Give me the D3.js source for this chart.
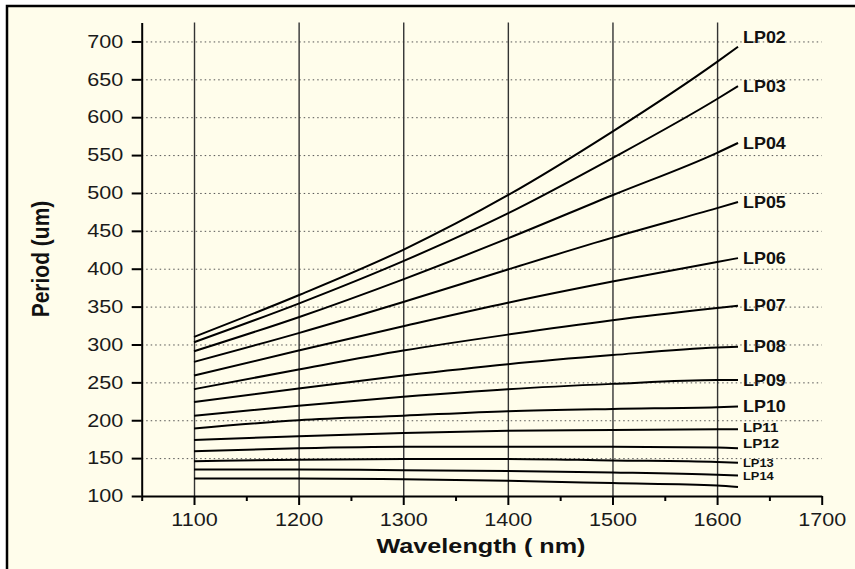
<!DOCTYPE html>
<html>
<head>
<meta charset="utf-8">
<script src="https://cdn.jsdelivr.net/npm/d3@7"></script>
<style>
body { margin: 0; background: #fff; }
svg { display: block; font-family: "Liberation Sans", Arial, sans-serif; }
</style>
</head>
<body>
<script>
// wavelengths (nm) where the curves were read
let wavelengths = [1100, 1200, 1300, 1400, 1500, 1600, 1620]

// grating period (um) for each mode
let lp02 = [310, 365, 425, 497, 581, 673, 693]
let lp03 = [303, 354, 410, 473, 546, 624, 641]
let lp04 = [291, 336, 386, 440, 497, 553, 566]
let lp05 = [277, 315, 356, 399, 441, 480, 488]
let lp06 = [259, 292, 324, 355, 383, 409, 414]
let lp07 = [241, 267, 292, 313, 332, 348, 351]
let lp08 = [224, 242, 259, 274, 286, 296, 297]
let lp09 = [206, 219, 231, 241, 248, 253, 253]
let lp10 = [189, 200, 206, 212, 215, 217, 218]
let lp11 = [174, 179, 183, 186, 187, 188, 188]
let lp12 = [159, 163, 165, 165, 165, 164, 163]
let lp13 = [146, 148, 149, 149, 147, 145, 144]
let lp14 = [135, 135, 134, 133, 131, 128, 127]
let lp15 = [123, 123, 122, 120, 117, 114, 112]

let series = [lp02, lp03, lp04, lp05, lp06, lp07, lp08, lp09, lp10, lp11, lp12, lp13, lp14, lp15]
let modeLabels = ["LP02", "LP03", "LP04", "LP05", "LP06", "LP07", "LP08", "LP09", "LP10", "LP11", "LP12", "LP13", "LP14"]

let xTicks = [1100, 1200, 1300, 1400, 1500, 1600, 1700]
let xMinor = [1050, 1150, 1250, 1350, 1450, 1550, 1650]
let yTicks = [100, 150, 200, 250, 300, 350, 400, 450, 500, 550, 600, 650, 700]
let yMinor = [125, 175, 225, 275, 325, 375, 425, 475, 525, 575, 625, 675, 725]

let sx = 1.2   // the picture's text is a bit wide

let svg = d3.select("body")
    .append("svg")
    .attr("width", 855)
    .attr("height", 569)

svg.append("rect")
    .attr("x", 7).attr("y", 6)
    .attr("width", 900).attr("height", 620)
    .attr("fill", "#fffdeb")
    .attr("stroke", "#000")
    .attr("stroke-width", 2.5)

let x = d3.scaleLinear().domain([1050, 1700]).range([141.7, 821.7])
let y = d3.scaleLinear().domain([100, 725]).range([496, 22.5])

// grid
svg.append("g")
    .attr("transform", "translate(141.7,0)")
    .call(d3.axisLeft(y).tickValues(yTicks.slice(1)).tickSize(-(821.7 - 141.7)).tickFormat(""))
    .call(g => g.select(".domain").remove())
    .selectAll("line")
        .attr("stroke", "#555")
        .attr("stroke-width", 1)
        .attr("stroke-dasharray", "1.5,3")

svg.append("g")
    .attr("transform", "translate(0,496)")
    .call(d3.axisBottom(x).tickValues(xTicks.slice(0, 6)).tickSize(-(496 - 22.5)).tickFormat(""))
    .call(g => g.select(".domain").remove())
    .selectAll("line")
        .attr("stroke", "#333")
        .attr("stroke-width", 1.4)

// curves
let line = d3.line()
    .x((d, i) => x(wavelengths[i]))
    .y(d => y(d))
    .curve(d3.curveMonotoneX)

svg.selectAll("path.curve")
    .data(series)
    .enter()
    .append("path")
    .attr("class", "curve")
    .attr("d", line)
    .attr("fill", "none")
    .attr("stroke", "#000")
    .attr("stroke-width", 2)

// mode labels
let nudge = {LP02: -9, LP12: -5, LP11: -2}
let labelSize = i => i < 9 ? 16 : (i < 11 ? 13.5 : 11.5)

svg.selectAll("text.mode")
    .data(modeLabels)
    .enter()
    .append("text")
    .attr("class", "mode")
    .attr("transform", (d, i) => {
        let v = series[i][series[i].length - 1]
        return "translate(" + (x(1620) + 5) + "," + (y(v) + (nudge[d] || 0)) + ") scale(1.12,1)"
    })
    .attr("dy", "0.35em")
    .style("font-size", (d, i) => labelSize(i) + "px")
    .style("font-weight", "bold")
    .attr("fill", "#111")
    .text(d => d)

// axes
let yAxis = svg.append("g")
    .attr("transform", "translate(141.7,0)")
    .call(d3.axisLeft(y).tickValues(yMinor).tickSize(5).tickFormat("").tickSizeOuter(0))
yAxis.call(d3.axisLeft(y).tickValues(yTicks).tickSize(10).tickSizeOuter(0))
yAxis.selectAll("line").attr("stroke", "#000").attr("stroke-width", 2)
yAxis.select(".domain").attr("stroke", "#000").attr("stroke-width", 2)
yAxis.selectAll(".tick text")
    .attr("x", -18.4 / sx)
    .attr("transform", "scale(" + sx + ",1)")
    .style("font-size", "18px")
    .attr("fill", "#1a1a1a")

let minorX = svg.append("g")
    .attr("transform", "translate(0,496)")
    .call(d3.axisBottom(x).tickValues(xMinor).tickSize(5).tickFormat("").tickSizeOuter(0))
minorX.select(".domain").remove()
minorX.selectAll("line").attr("stroke", "#000").attr("stroke-width", 2)

let xAxis = svg.append("g")
    .attr("transform", "translate(0,496)")
    .call(d3.axisBottom(x).tickValues(xTicks).tickSize(9).tickSizeOuter(0).tickFormat(d3.format("d")))
xAxis.selectAll("line").attr("stroke", "#000").attr("stroke-width", 2)
xAxis.select(".domain").attr("stroke", "#000").attr("stroke-width", 2)
xAxis.selectAll(".tick text")
    .attr("y", 17)
    .attr("transform", "scale(" + sx + ",1)")
    .style("font-size", "18px")
    .attr("fill", "#1a1a1a")

// titles
svg.append("text")
    .attr("transform", "translate(481,553) scale(" + sx + ",1)")
    .attr("text-anchor", "middle")
    .style("font-size", "21px")
    .style("font-weight", "bold")
    .attr("fill", "#111")
    .text("Wavelength ( nm)")

svg.append("text")
    .attr("transform", "translate(49,259) rotate(-90) scale(1.05,1.15)")
    .attr("text-anchor", "middle")
    .style("font-size", "20px")
    .style("font-weight", "bold")
    .attr("fill", "#111")
    .text("Period (um)")
</script>
</body>
</html>
